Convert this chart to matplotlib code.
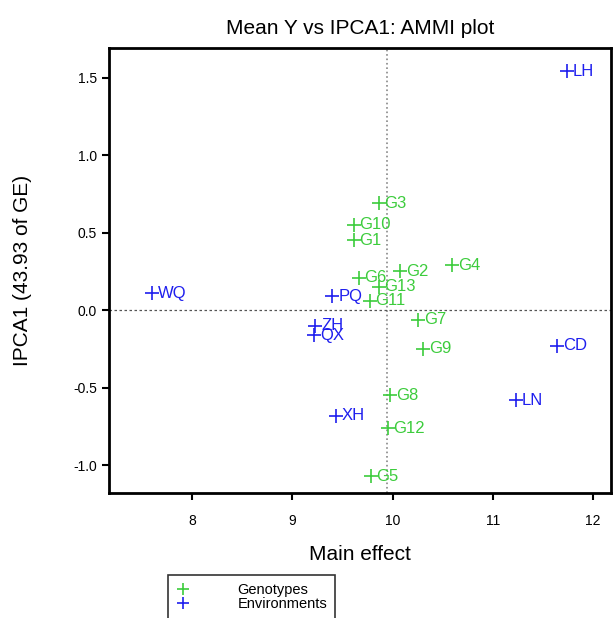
import matplotlib.pyplot as plt
from matplotlib.lines import Line2D

plt.rcParams["font.family"] = ["Liberation Sans", "DejaVu Sans"]

# genotypes: main effect (mean yield) and IPCA1 score
gen_names = ["G1", "G2", "G3", "G4", "G5", "G6", "G7", "G8", "G9", "G10", "G11", "G12", "G13"]
gen_x = [9.61, 10.07, 9.86, 10.59, 9.78, 9.66, 10.25, 9.97, 10.30, 9.61, 9.77, 9.95, 9.86]
gen_y = [0.45, 0.25, 0.69, 0.29, -1.07, 0.21, -0.06, -0.55, -0.25, 0.55, 0.06, -0.76, 0.15]

# environments
env_names = ["LH", "WQ", "PQ", "ZH", "QX", "CD", "LN", "XH"]
env_x = [11.74, 7.60, 9.40, 9.23, 9.22, 11.64, 11.23, 9.43]
env_y = [1.54, 0.11, 0.09, -0.10, -0.16, -0.23, -0.58, -0.68]

grand_mean = 9.94

GREEN = "#3ccc3c"
BLUE = "#1f1fee"

fig = plt.figure(figsize=(6.16, 6.18), dpi=100)
ax = fig.add_axes([0.177, 0.202, 0.815, 0.72])

ax.axvline(grand_mean, color="#888888", ls=":", lw=1.2, zorder=1)
ax.axhline(0, color="#555555", ls=(0, (2, 2)), lw=0.9, zorder=1)

ax.plot(gen_x, gen_y, "+", color=GREEN, ms=10, mew=1.2, ls="none")
ax.plot(env_x, env_y, "+", color=BLUE, ms=10, mew=1.2, ls="none")
for n, x, y in zip(gen_names, gen_x, gen_y):
    ax.text(x + 0.06, y, n, color=GREEN, fontsize=12, ha="left", va="center")
for n, x, y in zip(env_names, env_x, env_y):
    ax.text(x + 0.06, y, n, color=BLUE, fontsize=12, ha="left", va="center")

ax.set_xlim(7.17, 12.18)
ax.set_ylim(-1.18, 1.69)
ax.set_xticks([8, 9, 10, 11, 12])
ax.set_yticks([-1.0, -0.5, 0.0, 0.5, 1.0, 1.5])
ax.set_yticklabels(["-1.0", "-0.5", "0.0", "0.5", "1.0", "1.5"])
ax.tick_params(axis="both", direction="out", length=5, width=1.5, labelsize=10, colors="black")
ax.tick_params(axis="x", pad=10)
for side in ["left", "bottom", "right", "top"]:
    ax.spines[side].set_linewidth(2)

ax.set_title("Mean Y vs IPCA1: AMMI plot", fontsize=15, pad=10)
ax.set_xlabel("Main effect", fontsize=15, labelpad=12)
ax.set_ylabel("IPCA1 (43.93 of GE)", fontsize=15, labelpad=30)

handles = [
    Line2D([], [], marker="+", color=GREEN, ls="none", ms=9, mew=1.2),
    Line2D([], [], marker="+", color=BLUE, ls="none", ms=9, mew=1.2),
]
leg = fig.legend(handles, ["Genotypes", "Environments"], loc="upper left",
                 bbox_to_anchor=(0.273, 0.070), borderaxespad=0, frameon=True,
                 fancybox=False, edgecolor="black", fontsize=10.5,
                 handletextpad=3.2, labelspacing=0.0, borderpad=0.55,
                 handlelength=1.0)
leg.get_frame().set_linewidth(1.2)

fig.savefig("out.png", dpi=100)
